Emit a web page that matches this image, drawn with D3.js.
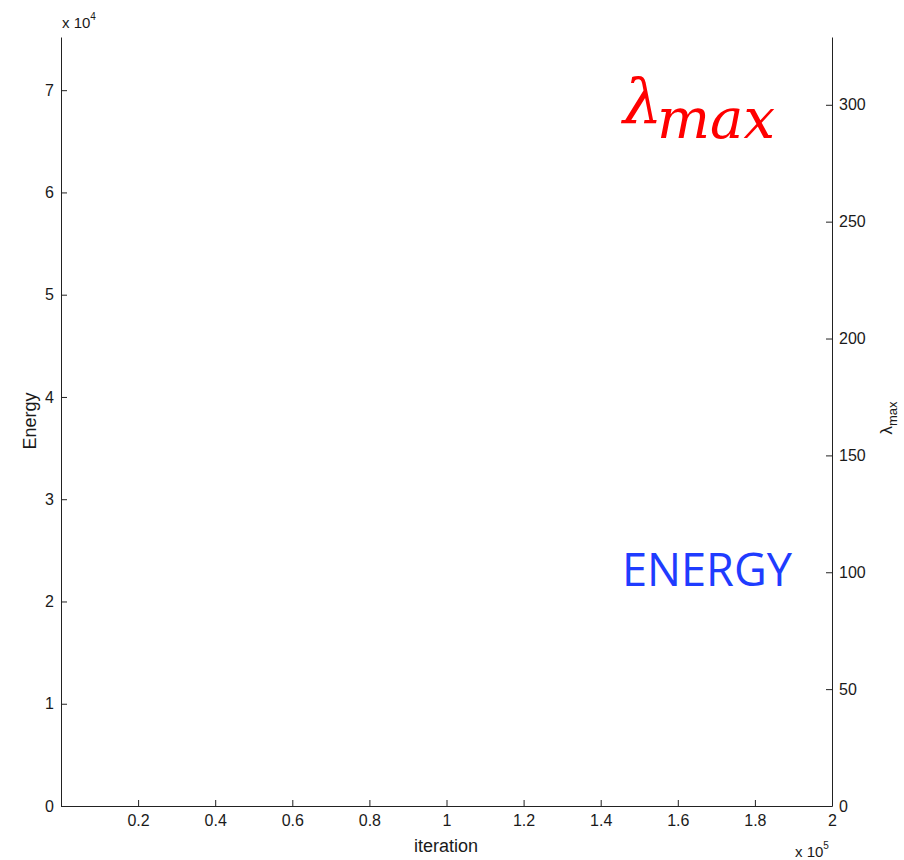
<!DOCTYPE html>
<html>
<head>
<meta charset="utf-8">
<script src="https://cdn.jsdelivr.net/npm/d3@7"></script>
<style>
  body { margin: 0; background: #fff; }
  svg text { font-family: "Liberation Sans", Arial, sans-serif; fill: #1a1a1a; }
  .axis path, .axis line { stroke: #222; }
</style>
</head>
<body>
<svg id="chart" width="904" height="860"></svg>
<script>
// axis extents and tick values (no data curves are drawn in it)
const iterDomain = [0, 200000];
const iterTicks = [20000, 40000, 60000, 80000, 100000, 120000, 140000, 160000, 180000, 200000];
const energyDomain = [0, 75200];
const energyTicks = [0, 10000, 20000, 30000, 40000, 50000, 60000, 70000];
const lambdaDomain = [0, 329];
const lambdaTicks = [0, 50, 100, 150, 200, 250, 300];

const margin = { top: 37, right: 72, bottom: 54, left: 61 };
const width = 904 - margin.left - margin.right;
const height = 860 - margin.top - margin.bottom;

const svg = d3.select('#chart');
const g = svg.append('g').attr('transform', `translate(${margin.left},${margin.top})`);

const x = d3.scaleLinear().domain(iterDomain).range([0, width]);
const yE = d3.scaleLinear().domain(energyDomain).range([height, 0]);
const yL = d3.scaleLinear().domain(lambdaDomain).range([height, 0]);

// bottom axis, ticks pointing inward
const xAxis = g.append('g')
  .attr('class', 'axis')
  .attr('transform', `translate(0,${height})`)
  .call(d3.axisBottom(x).tickValues(iterTicks).tickSizeInner(-6).tickSizeOuter(0)
    .tickPadding(9).tickFormat((d) => d3.format('~g')(d / 1e5)));
xAxis.selectAll('text').style('font-size', '16px');

const leftAxis = g.append('g')
  .attr('class', 'axis')
  .call(d3.axisLeft(yE).tickValues(energyTicks).tickSizeInner(-6).tickSizeOuter(0)
    .tickPadding(7).tickFormat((d) => d / 1e4));
leftAxis.selectAll('text').style('font-size', '16px');

const rightAxis = g.append('g')
  .attr('class', 'axis')
  .attr('transform', `translate(${width},0)`)
  .call(d3.axisRight(yL).tickValues(lambdaTicks).tickSizeInner(-6).tickSizeOuter(0)
    .tickPadding(7));
rightAxis.selectAll('text').style('font-size', '16px');

// exponent labels
const expE = svg.append('text').attr('x', 62).attr('y', 28).style('font-size', '15px');
expE.append('tspan').text('x 10');
expE.append('tspan').attr('dy', -8).style('font-size', '10px').text('4');

const expI = svg.append('text').attr('x', 795).attr('y', 857).style('font-size', '15px');
expI.append('tspan').text('x 10');
expI.append('tspan').attr('dy', -8).style('font-size', '10px').text('5');

// axis titles
svg.append('text')
  .attr('transform', 'translate(36,421) rotate(-90)')
  .attr('text-anchor', 'middle')
  .style('font-size', '18px')
  .text('Energy');

svg.append('text')
  .attr('x', 446).attr('y', 852)
  .attr('text-anchor', 'middle')
  .style('font-size', '18px')
  .text('iteration');

const lamTitle = svg.append('text')
  .attr('transform', 'translate(892,418) rotate(-90)')
  .attr('text-anchor', 'middle')
  .style('font-size', '17px');
lamTitle.append('tspan').text('λ');
lamTitle.append('tspan').attr('dy', 5).style('font-size', '13px').text('max');

// annotations
const lamBig = svg.append('text')
  .attr('x', 623).attr('y', 123)
  .style('font-family', '"DejaVu Serif", serif')
  .style('font-style', 'italic')
  .style('fill', '#ff0000')
  .style('font-size', '62px');
lamBig.append('tspan').text('λ');
lamBig.append('tspan').attr('x', 657).attr('dy', 15).style('font-size', '56px')
  .attr('textLength', 118).attr('lengthAdjust', 'spacingAndGlyphs').text('max');

svg.append('text')
  .attr('x', 622).attr('y', 586)
  .attr('textLength', 170).attr('lengthAdjust', 'spacingAndGlyphs')
  .style('font-family', '"Open Sans", "Noto Sans", sans-serif')
  .style('fill', '#1f3cff')
  .style('font-size', '45px')
  .text('ENERGY');
</script>
</body>
</html>
